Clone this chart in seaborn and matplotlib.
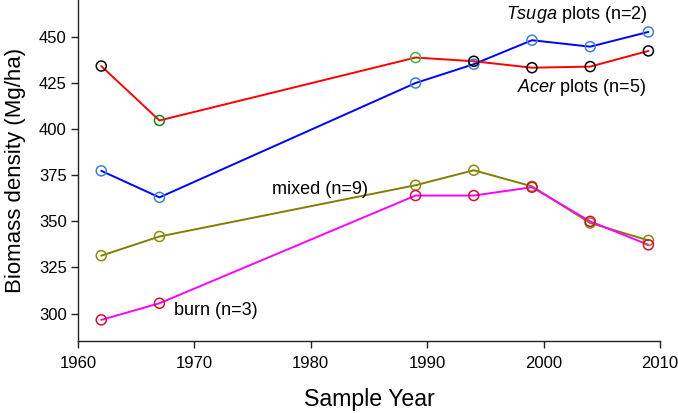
import numpy as np
import pandas as pd
import matplotlib
matplotlib.use("Agg")
import matplotlib.pyplot as plt
import seaborn as sns

years = [1962, 1967, 1989, 1994, 1999, 2004, 2009]
acer = [434.2, 404.7, 438.8, 436.8, 433.3, 433.9, 442.4]
tsuga = [377.4, 363.0, 425.0, 435.2, 448.2, 444.7, 452.7]
mixed = [331.4, 341.8, 369.6, 377.7, 369.0, 349.1, 339.7]
burn = [296.6, 305.6, 364.0, 364.0, 368.5, 350.0, 337.3]

acer_edges = ["black", "#207a20", "#33c033", "black", "black", "black", "black"]
tsuga_edges = ["#3c7fd8"] * 7
mixed_edges = ["#8a8a10"] * 7
burn_edges = ["#d01030"] * 7

x_ticks = [1960, 1970, 1980, 1990, 2000, 2010]
y_ticks = [300, 325, 350, 375, 400, 425, 450]

sns.set_theme(style="ticks")
plt.rcParams["font.family"] = ["Liberation Sans", "DejaVu Sans"]
plt.rcParams["mathtext.fontset"] = "custom"
plt.rcParams["mathtext.it"] = "Liberation Sans:italic"
plt.rcParams["mathtext.rm"] = "Liberation Sans"
for k in ["text.color", "axes.labelcolor", "xtick.color", "ytick.color"]:
    plt.rcParams[k] = "black"

fig = plt.figure(figsize=(6.78, 4.13), dpi=100)
ax = fig.add_axes([0.115, 0.175, 0.8585, 0.825])

series = [
    (mixed, "#808000", mixed_edges),
    (burn, "#ff00ff", burn_edges),
    (tsuga, "#0000ff", tsuga_edges),
    (acer, "#ff0000", acer_edges),
]
for vals, lc, edges in series:
    sns.lineplot(x=years, y=vals, color=lc, lw=1.4, ax=ax, estimator=None)
for vals, lc, edges in series:
    sns.scatterplot(x=years, y=vals, marker="o", s=52, facecolor="none",
                    edgecolor=edges, linewidth=1.1, ax=ax, zorder=3)

fs = 13
ax.text(2008.9, 462, r"$\it{Tsuga}$ plots (n=2)", ha="right", va="center", fontsize=fs)
ax.text(2008.8, 422.8, r"$\it{Acer}$ plots (n=5)", ha="right", va="center", fontsize=fs)
ax.text(1976.7, 367.4, "mixed (n=9)", ha="left", va="center", fontsize=fs)
ax.text(1968.25, 301.6, "burn (n=3)", ha="left", va="center", fontsize=fs)

ax.set_xlim(1960, 2010)
ax.set_ylim(285.3, 470)
ax.set_xticks(x_ticks)
ax.set_yticks(y_ticks)
ax.tick_params(axis="both", labelsize=12, length=5, width=1, color="#222222")
ax.tick_params(axis="x", pad=6)
ax.tick_params(axis="y", pad=3)
ax.set_xlabel("Sample Year", fontsize=16.7, labelpad=12)
ax.set_ylabel("Biomass density (Mg/ha)", fontsize=16, labelpad=9)
sns.despine(ax=ax)
for s in ["left", "bottom"]:
    ax.spines[s].set_color("#222222")
    ax.spines[s].set_linewidth(1.0)

fig.savefig("out.png", dpi=100)
